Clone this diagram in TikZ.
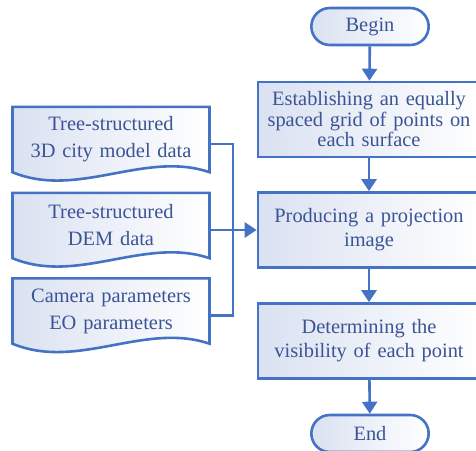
\documentclass[tikz,border=0pt]{standalone}
\usepackage{fontspec}
\setmainfont{Liberation Serif}
\usetikzlibrary{arrows.meta}
\usetikzlibrary{positioning}
\usetikzlibrary{shapes.misc}
\usetikzlibrary{calc}
\usetikzlibrary{backgrounds}
\definecolor{lineblue}{RGB}{68,114,196}
\definecolor{textblue}{RGB}{58,84,150}
\definecolor{shadeblue}{RGB}{218,225,241}
\newcommand{\flowfont}{\fontsize{20.4}{24}\selectfont}
\tikzset{blueline/.style = {draw=lineblue, line width=2.6pt}}
\tikzset{flow/.style = {blueline, -{Triangle[width=15pt, length=12pt]}}}
\tikzset{stepbox/.style = {blueline, left color=shadeblue, right color=white, minimum width=222pt, minimum height=75pt, text width=215pt, align=center, text=textblue, font=\flowfont}}
\tikzset{term/.style = {blueline, rounded rectangle, left color=shadeblue, right color=white, minimum width=124pt, minimum height=37pt, text=textblue, font=\flowfont}}
\tikzset{doc/.style = {minimum width=196pt, minimum height=65pt, text width=190pt, align=center, text=textblue, font=\fontsize{20.4}{27}\selectfont}}
\tikzset{docwave/.style = {blueline, left color=shadeblue, right color=white}}

\begin{document}
\begin{tikzpicture}[x=1pt, y=-1pt]
    \useasboundingbox (0, 0) rectangle (476, 450);

    % main column
    \node [term] (begin) at (370, 26.5) {Begin};
    \node [stepbox, font=\fontsize{20.4}{20.5}\selectfont] (box1) at (369, 119.5) {Establishing an equally\\spaced grid of points on\\each surface};
    \node [stepbox] (box2) at (369, 230) {Producing a projection\\image};
    \node [stepbox] (box3) at (369, 341) {Determining the\\visibility of each point};
    \node [term] (end) at (370, 433.5) {End};

    \draw [flow] (begin) -- (box1);
    \draw [flow] (box1) -- (box2);
    \draw [flow] (box2) -- (box3);
    \draw [flow] (box3) -- (end);

    % input data
    \node [doc] (doc1) at (111, 139.5) {Tree-structured\\3D city model data};
    \node [doc] (doc2) at (111, 225.5) {Tree-structured\\DEM data};
    \node [doc] (doc3) at (111, 311) {Camera parameters\\EO parameters};

    \begin{scope}[on background layer]
      \foreach \d in {doc1, doc2, doc3}
        \draw [docwave] (\d.north west) -- (\d.south west)
          .. controls ($(\d.south west) + (65, 27)$) and ($(\d.south east) + (-65, -22)$) .. (\d.south east)
          -- (\d.north east) -- cycle;
    \end{scope}

    \coordinate (joint) at (233, 230);
    \draw [blueline] ([yshift=-4.5pt]doc1.east) -| (joint) |- ([yshift=-4.5pt]doc3.east);
    \draw [flow] ([yshift=-4.5pt]doc2.east) -- (box2.west);
\end{tikzpicture}
\end{document}
